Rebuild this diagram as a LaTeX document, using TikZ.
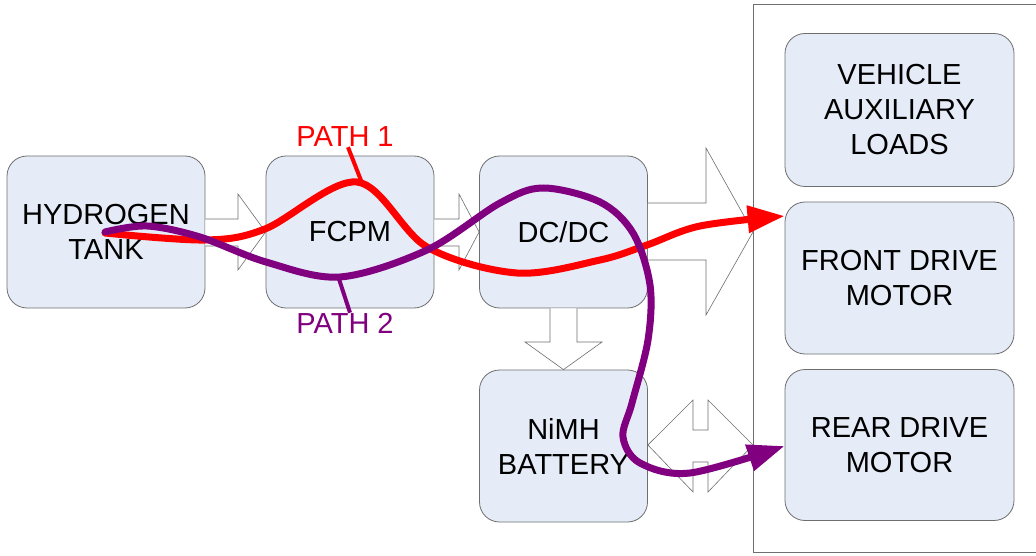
\documentclass[tikz,border=0pt]{standalone}
\usepackage{fontspec}
\setmainfont{Liberation Sans}
\usetikzlibrary{arrows.meta}
\definecolor{boxfill}{RGB}{230,236,247}
\definecolor{boxline}{RGB}{110,110,110}
\definecolor{pathred}{RGB}{255,0,0}
\definecolor{pathpurple}{RGB}{128,0,128}
\begin{document}
\begin{tikzpicture}[x=1pt,y=1pt,
  block/.style={draw=boxline,fill=boxfill,line width=0.8pt,rounded corners=20pt,
    minimum width=#1,align=center,inner sep=0pt,
    font=\fontsize{29}{35}\selectfont},
  block/.default=168pt,
  blockarrow/.style={draw=boxline,fill=white,line width=0.6pt,line join=miter},
  pathline/.style={line width=7pt,line cap=round,line join=round},
  pathlabel/.style={font=\fontsize{29}{32}\selectfont,inner sep=0pt}]
\useasboundingbox (0,0) rectangle (1036,-556);
% container
\draw[boxline,line width=0.8pt] (1036,-4) -- (753,-4) -- (753,-552) -- (1036,-552);
% blocks
\node[block=198pt,minimum height=152pt] (h2) at (106,-232) {HYDROGEN\\TANK};
\node[block,minimum height=152pt] (fcpm) at (350,-232) {FCPM};
\node[block,minimum height=152pt] (dcdc) at (563.5,-232) {DC/DC};
\node[block,minimum height=152pt] (batt) at (563.5,-446) {NiMH\\BATTERY};
\node[block=229pt,minimum height=153pt] (aux) at (899.5,-110) {VEHICLE\\AUXILIARY\\LOADS};
\node[block=229pt,minimum height=152pt] (front) at (899.5,-278) {FRONT DRIVE\\MOTOR};
\node[block=229pt,minimum height=151pt] (rear) at (899.5,-445) {REAR DRIVE\\MOTOR};
% block arrows
\draw[blockarrow] (h2.east |- 0,-219) -- (238,-219) -- (238,-194) -- (fcpm.west) -- (238,-270) -- (238,-246) -- (h2.east |- 0,-246);
\draw[blockarrow] (fcpm.east |- 0,-219) -- (459,-219) -- (459,-194) -- (dcdc.west) -- (459,-270) -- (459,-246) -- (fcpm.east |- 0,-246);
\draw[blockarrow] (dcdc.east |- 0,-203) -- (706,-203) -- (706,-148) -- (753,-232) -- (706,-315) -- (706,-260) -- (dcdc.east |- 0,-260);
\draw[blockarrow] (550,0 |- dcdc.south) -- (550,-342) -- (525,-342) -- (batt.north) -- (602,-342) -- (577,-342) -- (577,0 |- dcdc.south);
\draw[blockarrow] (batt.east |- 0,-445) -- (693,-400) -- (693,-430) -- (708,-430) -- (708,-400) -- (753,-445) -- (708,-492) -- (708,-462) -- (693,-462) -- (693,-492) -- cycle;
% path 1 (red)
\coordinate (r0) at (105,-233);
\coordinate (r1) at (front.north west |- 0,-216);
\draw[pathline,pathred,-{Triangle[length=37pt,width=26pt]}] plot[smooth,tension=0.55] coordinates {(r0) (205,-240) (265,-229) (357,-182) (427,-247) (517,-273) (600,-260) (647,-245) (700,-226) (r1)};
% path 2 (purple)
\coordinate (p0) at (105,-232);
\coordinate (p1) at (rear.west |- 0,-446);
\draw[pathline,pathpurple,-{Triangle[length=37pt,width=26pt]}] plot[smooth,tension=0.55] coordinates {(p0) (147,-226) (200,-237) (266,-262) (340,-277) (427,-250) (500,-203) (543,-188) (600,-202) (633,-233) (650,-285) (648,-340) (632,-403) (623,-437) (640,-463) (690,-473) (p1)};
% labels
\node[pathlabel,text=pathred] (lab1) at (345,-137) {PATH 1};
\coordinate (lab1end) at (362,-183);
\draw[pathred,line width=4pt] (lab1.south) ++(3,0) -- (lab1end);
\node[pathlabel,text=pathpurple] (lab2) at (345,-323) {PATH 2};
\coordinate (lab2end) at (339,-279);
\draw[pathpurple,line width=4pt] (lab2.north) ++(5,0) -- (lab2end);
\end{tikzpicture}
\end{document}
